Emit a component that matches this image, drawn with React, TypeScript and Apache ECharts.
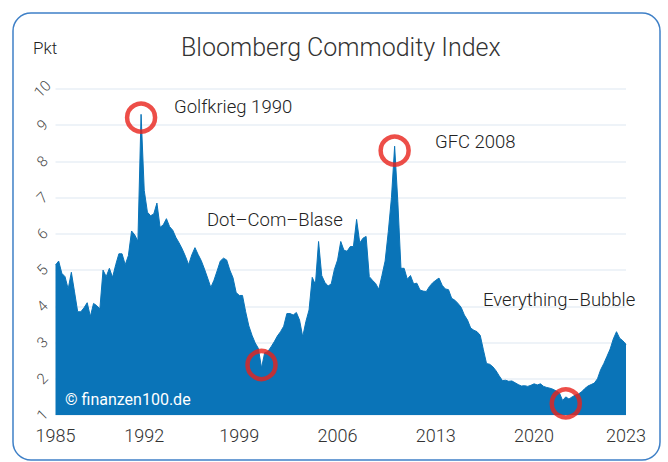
import React, { useEffect, useRef } from "react";
import * as echarts from "echarts";

// Index values (Pkt), evenly spaced observations 1985 – 2023
const values: number[] = [
  5.14, 5.25, 4.91, 4.82, 4.48, 4.94, 4.40, 3.85, 3.85, 3.96,
  4.10, 3.72, 4.08, 4.02, 3.93, 5.00, 4.82, 5.05, 4.80, 5.15,
  5.45, 5.45, 5.15, 5.40, 6.08, 5.97, 5.80, 9.30, 7.20, 6.60,
  6.50, 6.55, 6.85, 6.18, 6.25, 6.42, 6.20, 6.10, 5.90, 5.75,
  5.58, 5.38, 5.15, 5.42, 5.62, 5.43, 5.26, 5.03, 4.78, 4.52,
  4.72, 4.98, 5.25, 5.33, 5.28, 5.00, 4.79, 4.38, 4.30, 4.30,
  3.85, 3.46, 3.20, 2.99, 2.84, 2.30, 2.72, 2.75, 2.88, 3.02,
  3.18, 3.30, 3.45, 3.80, 3.80, 3.76, 3.83, 3.62, 3.16, 3.58,
  3.90, 4.80, 4.60, 5.79, 4.85, 4.66, 4.56, 4.62, 5.02, 5.28,
  5.79, 5.55, 5.52, 5.65, 5.65, 6.40, 5.75, 5.88, 5.93, 4.82,
  4.72, 4.63, 4.47, 4.85, 5.25, 6.06, 7.00, 8.42, 6.90, 5.05,
  5.05, 4.75, 4.85, 4.62, 4.64, 4.45, 4.42, 4.41, 4.55, 4.65,
  4.72, 4.78, 4.58, 4.48, 4.46, 4.22, 4.17, 4.08, 3.97, 3.76,
  3.62, 3.40, 3.34, 3.30, 3.20, 2.80, 2.42, 2.40, 2.33, 2.22,
  2.08, 1.95, 1.96, 1.93, 1.94, 1.89, 1.84, 1.80, 1.81, 1.79,
  1.82, 1.86, 1.83, 1.86, 1.79, 1.76, 1.74, 1.71, 1.66, 1.61,
  1.40, 1.50, 1.44, 1.50, 1.55, 1.58, 1.64, 1.73, 1.80, 1.84,
  1.88, 2.00, 2.25, 2.42, 2.62, 2.82, 3.10, 3.30, 3.12, 3.05,
  2.95,
];

// x-axis tick labels and the observation index each sits at
const tickLabels: string[] = ["1985", "1992", "1999", "2006", "2013", "2020", "2023"];
const tickIndex: number[] = [0, 28, 58, 89, 120, 151, 180];

// categories: tick label at tick positions, running index elsewhere
const categories: string[] = values.map((_, i) => {
  const t = tickIndex.indexOf(i);
  return t >= 0 ? tickLabels[t] : `#${i}`;
});

// highlighted events: [index, value] of the red circles
const eventNames: string[] = ["Golfkrieg 1990", "Dot–Com–Blase", "GFC 2008", "Everything–Bubble"];
const eventPoints: number[][] = [
  [27, 9.21],
  [65, 2.38],
  [107, 8.3],
  [161, 1.32],
];

const BLUE = "#0a74b8";
const RED = "#e8221a";
const FONT = "Roboto, 'Noto Sans', sans-serif";

export default function App() {
  const ref = useRef<HTMLDivElement>(null);

  useEffect(() => {
    if (!ref.current) return;
    const chart = echarts.init(ref.current, undefined, { renderer: "svg" });
    const annot = (text: string, x: number, y: number) => ({
      type: "text",
      x,
      y,
      style: { text, fontSize: 18.5, fontWeight: 300, fill: "#222", fontFamily: FONT, verticalAlign: "middle" },
      z: 10,
    });
    chart.setOption({
      animation: false,
      backgroundColor: "#ffffff",
      title: {
        text: "Bloomberg Commodity Index",
        left: 176,
        top: 30,
        textStyle: { fontSize: 25, fontWeight: 300, color: "#333", fontFamily: FONT },
      },
      grid: { left: 55.5, right: 42, top: 89, bottom: 47 },
      xAxis: {
        type: "category",
        data: categories,
        boundaryGap: false,
        axisLine: { show: false },
        axisTick: { show: false },
        splitLine: { show: false },
        axisLabel: {
          interval: (index: number) => tickIndex.includes(index),
          formatter: (v: string) => (tickLabels.includes(v) ? v : ""),
          fontSize: 18,
          color: "#333",
          fontFamily: FONT,
          fontWeight: 300,
          margin: 11,
        },
      },
      yAxis: {
        type: "value",
        min: 1,
        max: 10,
        interval: 1,
        axisLine: { show: false },
        axisTick: { show: false },
        splitLine: { lineStyle: { color: "#e9eff6", width: 1.5 } },
        axisLabel: {
          rotate: 45,
          align: "center",
          verticalAlign: "middle",
          margin: 13,
          fontSize: 15,
          color: "#4a4a4a",
          fontFamily: FONT,
          fontWeight: 300,
        },
      },
      series: [
        {
          type: "line",
          data: values,
          showSymbol: false,
          symbol: "none",
          lineStyle: { color: BLUE, width: 1 },
          areaStyle: { color: BLUE, opacity: 1 },
          z: 2,
        },
        {
          type: "scatter",
          data: eventPoints,
          symbol: "circle",
          symbolSize: 28,
          itemStyle: { color: "rgba(0,0,0,0)", borderColor: RED, borderWidth: 4.5 },
          z: 5,
        },
      ],
      graphic: [
        {
          type: "rect",
          shape: { x: 13, y: 13, width: 647, height: 447, r: 18 },
          style: { fill: "none", stroke: "#3f80c7", lineWidth: 1.5 },
          z: 100,
          silent: true,
        },
        {
          type: "text",
          x: 33,
          y: 48,
          style: { text: "Pkt", fontSize: 17, fontWeight: 300, fill: "#222", fontFamily: FONT, verticalAlign: "middle" },
        },
        annot(eventNames[0], 174, 107),
        annot(eventNames[1], 207, 220),
        annot(eventNames[2], 435, 142),
        annot(eventNames[3], 483, 300),
        {
          type: "text",
          x: 65,
          y: 399,
          style: { text: "© finanzen100.de", fontSize: 16, fill: "#ffffff", fontFamily: FONT, verticalAlign: "middle" },
          z: 10,
        },
      ],
    });
    return () => chart.dispose();
  }, []);

  return (
    <div
      ref={ref}
      style={{ position: "fixed", left: 0, top: 0, width: 668, height: 462 }}
    />
  );
}
